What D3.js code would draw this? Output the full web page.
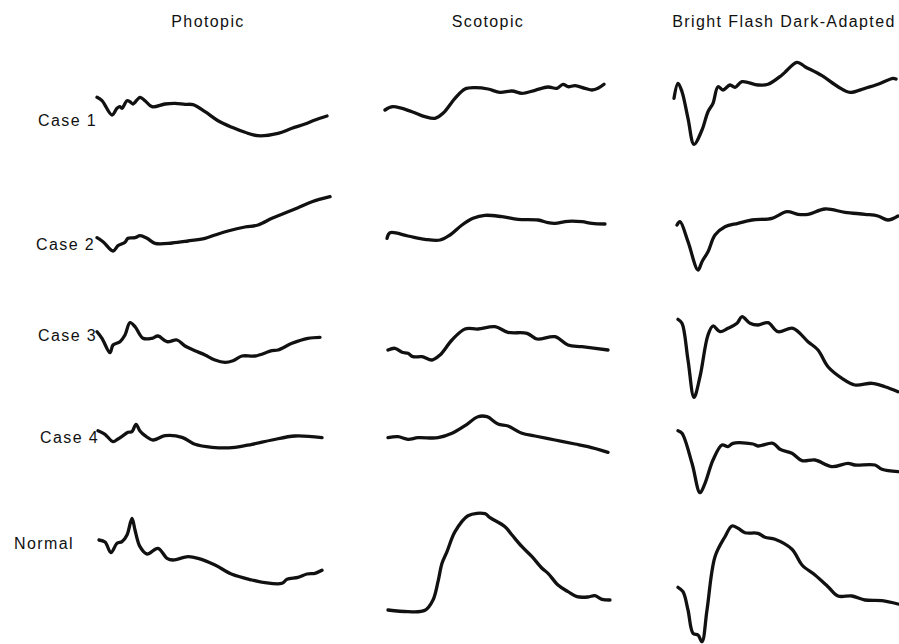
<!DOCTYPE html>
<html>
<head>
<meta charset="utf-8">
<script src="https://cdn.jsdelivr.net/npm/d3@7"></script>
<style>
  body { margin: 0; background: #fff; }
  text { font-family: "Liberation Sans", Arial, Helvetica, sans-serif; fill: #111; font-size: 16px; letter-spacing: 1.4px; }
</style>
</head>
<body>
<svg id="chart" width="899" height="644"></svg>
<script>
// column titles and row labels
var protocols = ["Photopic", "Scotopic", "Bright Flash Dark-Adapted"];
var subjects = ["Case 1", "Case 2", "Case 3", "Case 4", "Normal"];

// traces, [time, amplitude] (arbitrary units)
var photopic1 = [[2,12.7],[7,9.3],[17,-5],[22,1.7],[25,3.3],[27,1.7],[32,9.3],[35,8.3],[38,6],[45,12.7],[50,9.3],[57,3.3],[70,6],[80,6.7],[90,5.7],[98,5.3],[110,-1.7],[123,-10.7],[137,-17.3],[150,-22.3],[163,-25.7],[183,-23.3],[197,-18.3],[210,-14],[220,-10],[232,-6]];
var photopic2 = [[2,-7.7],[8,-11.7],[18,-21],[23,-15.7],[30,-12.3],[33,-8.3],[40,-7.7],[45,-5.7],[52,-8.3],[60,-13.3],[77,-13],[93,-11],[110,-8.3],[120,-5],[133,-1],[150,3],[163,5],[177,11.7],[190,17],[203,22.3],[217,28.3],[235,33.3]];
var photopic3 = [[2,13.3],[7,6.7],[15,-7.7],[18,0],[25,3.3],[30,10],[35,22.3],[40,18.3],[48,6.7],[57,6.7],[63,9],[72,3.3],[82,5],[90,-1],[100,-5.7],[110,-10],[120,-15],[130,-17.3],[138,-15.7],[147,-11],[160,-11],[177,-5.7],[183,-5],[197,1.7],[213,6.7],[225,7.7]];
var photopic4 = [[3,9.3],[10,5.7],[18,-1.7],[23,1],[28,4.3],[33,7.7],[37,8.3],[41,15.7],[45,9],[50,4.3],[58,0],[70,4.3],[87,2.7],[100,-4.3],[117,-7.3],[137,-7.7],[157,-4.3],[177,0],[200,4],[227,2.3]];
var photopicN = [[4,30],[10,28],[16,17.3],[22,26.7],[27,28.3],[32,35],[37,51.7],[40,40],[45,23.3],[52,16],[63,21.7],[72,11.7],[78,10],[93,13.3],[103,11.7],[120,5],[137,-4.3],[157,-10],[170,-12.7],[187,-13.3],[192,-9.3],[203,-7.3],[212,-4],[220,-3.3],[227,-0.3]];

var scotopic1 = [[0,0],[8,3.3],[27,-1.7],[40,-6.7],[50,-8.3],[58,-3.3],[70,11.7],[80,21],[90,22.3],[103,21],[115,17.7],[127,19],[137,16.7],[150,19.7],[163,23],[172,21.7],[178,25.7],[183,23.3],[190,24.3],[200,21.7],[207,20],[213,21.7],[219,25.7]];
var scotopic2 = [[2,-8.3],[5,-2.7],[23,-6],[40,-9.3],[55,-10],[65,-5],[77,5],[88,11.7],[100,14.7],[117,13.3],[133,10.7],[153,10],[163,7.3],[170,6.7],[183,8.7],[197,8.3],[207,6.7],[220,6]];
var scotopic3 = [[3,-5],[10,-3.3],[17,-7.3],[23,-8.3],[28,-11.7],[37,-11.7],[47,-15],[55,-10],[67,5],[80,16],[93,16],[110,18.3],[123,12.7],[142,11.7],[152,6],[170,8.3],[183,0],[197,-1.7],[223,-5]];
var scotopic4 = [[3,2.3],[13,3.3],[23,0.7],[33,2.3],[53,2.3],[67,6.7],[80,14.3],[93,23.3],[102,23.3],[113,16],[123,14],[137,6.7],[150,4],[170,0],[190,-4],[203,-6.7],[223,-12.3]];
var scotopicN = [[3,-40],[23,-41.7],[40,-40.3],[48,-30],[53,-11.7],[57,6.7],[62,18.3],[70,38.3],[83,54.3],[100,56.3],[105,52.3],[120,43.3],[127,35],[137,23.3],[147,13.3],[157,1.7],[163,-3.3],[173,-15],[183,-21.7],[192,-26.7],[203,-27],[210,-25.7],[217,-29.3],[225,-30]];

var flash1 = [[0,11.7],[4,26.7],[8,18.3],[14,-8.3],[20,-34.3],[28,-20],[34,-1.7],[39,6.7],[44,23.3],[49,20],[56,25],[61,22.7],[68,28.3],[84,25],[94,25.7],[108,35],[123,47.7],[131,43.3],[148,34.3],[164,23.3],[176,17.7],[191,21.7],[204,25.7],[219,31.7],[222,31]];
var flash2 = [[3,5],[6,8.3],[14,-11.7],[24,-40],[28,-31.7],[34,-21.7],[41,-5],[51,3.3],[64,6.7],[78,10],[98,11.7],[113,18.3],[124,15.7],[134,15.7],[151,21],[171,17.7],[191,15.7],[204,14],[214,10],[224,14]];
var flash3 = [[4,25.7],[8,21.7],[14,-15],[20,-52.3],[26,-31.7],[34,10],[39,19],[46,13.3],[54,16.7],[63,21.7],[68,28.3],[76,21.7],[84,20],[94,22.3],[104,13.3],[119,16.7],[134,3.3],[144,-5],[154,-21.7],[168,-33.3],[181,-40],[198,-38.3],[211,-41.7],[224,-46.7]];
var flash4 = [[4,9.3],[8,6.7],[18,-23.3],[26,-52.7],[31,-43.3],[39,-20],[48,-5],[54,-6.7],[59,-3.3],[79,-4],[84,-6],[99,-3.3],[106,-9.3],[118,-13.3],[128,-20.7],[141,-20],[158,-26.7],[174,-23.3],[181,-25],[201,-25],[208,-29.3],[224,-31.7]];
var flashN = [[4,-17.3],[9,-21.7],[14,-40],[19,-63.3],[24,-65],[28,-71.7],[33,-40],[41,13.3],[51,33.3],[58,44],[64,41.7],[71,37.3],[84,36.7],[91,32.7],[101,30.7],[118,20.7],[128,5],[141,-5],[154,-16.7],[164,-26],[178,-26],[191,-30],[208,-30.7],[224,-34]];

var traces = [
  [photopic1, scotopic1, flash1],
  [photopic2, scotopic2, flash2],
  [photopic3, scotopic3, flash3],
  [photopic4, scotopic4, flash4],
  [photopicN, scotopicN, flashN]
];

var svg = d3.select("#chart");

// layout of the grid
var colLeft = [95, 385, 674],
    colWidth = 240,
    rowBase = [110, 230, 345, 440, 570],
    titleX = [208, 488, 784],
    labelX = [38, 36, 38, 40, 14],
    labelY = [126, 250, 341, 443, 549];

svg.selectAll(".title")
    .data(protocols)
  .enter().append("text")
    .attr("class", "title")
    .attr("x", function(d, i) { return titleX[i]; })
    .attr("y", 27)
    .attr("text-anchor", "middle")
    .text(function(d) { return d; });

svg.selectAll(".rowlabel")
    .data(subjects)
  .enter().append("text")
    .attr("class", "rowlabel")
    .attr("x", function(d, i) { return labelX[i]; })
    .attr("y", function(d, i) { return labelY[i]; })
    .text(function(d) { return d; });

traces.forEach(function(row, r) {
  row.forEach(function(trace, c) {
    var x = d3.scaleLinear().domain([0, colWidth]).range([colLeft[c], colLeft[c] + colWidth]);
    var y = d3.scaleLinear().domain([-80, 80]).range([rowBase[r] + 80, rowBase[r] - 80]);
    var line = d3.line()
        .x(function(d) { return x(d[0]); })
        .y(function(d) { return y(d[1]); })
        .curve(d3.curveCatmullRom.alpha(0.5));

    svg.append("path")
        .datum(trace)
        .attr("d", line)
        .attr("fill", "none")
        .attr("stroke", "#111")
        .attr("stroke-width", 3.3)
        .attr("stroke-linejoin", "round")
        .attr("stroke-linecap", "round");
  });
});
</script>
</body>
</html>
